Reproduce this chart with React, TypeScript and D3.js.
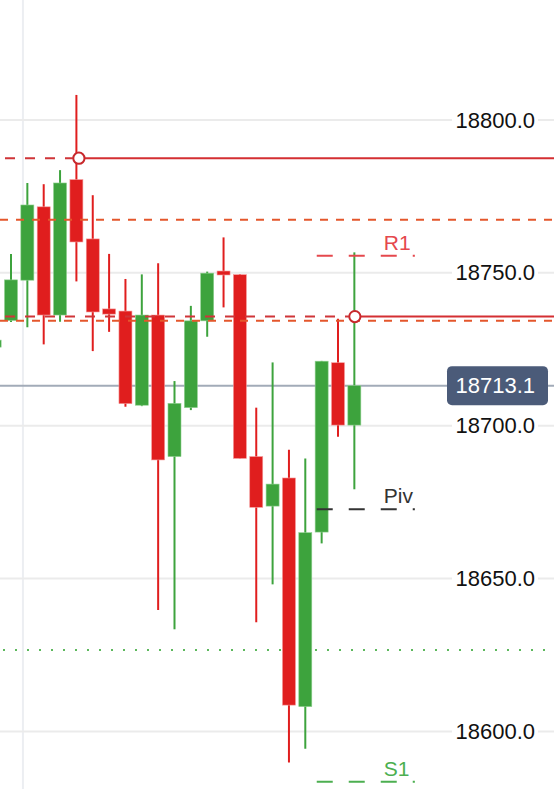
import React from "react";
import * as d3 from "d3";

const W = 554;
const H = 789;

// Candles: [open, high, low, close], index -1 is the partially visible one at the left edge
const candleIndex = [-1, 0, 1, 2, 3, 4, 5, 6, 7, 8, 9, 10, 11, 12, 13, 14, 15, 16, 17, 18, 19, 20, 21];
const opens = [18725.7, 18734.4, 18747.6, 18771.6, 18736.2, 18780.5, 18761.1, 18738.2, 18737.5, 18706.7, 18736.2, 18689.9, 18705.9, 18734.3, 18750.6, 18749.4, 18689.9, 18673.7, 18682.9, 18608.1, 18665.2, 18720.6, 18700.2];
const highs = [18730.0, 18756.2, 18779.4, 18779.0, 18783.6, 18808.2, 18775.4, 18756.2, 18748.0, 18749.5, 18753.1, 18714.6, 18739.2, 18750.4, 18761.6, 18749.6, 18705.9, 18720.7, 18692.1, 18689.3, 18721.2, 18735.0, 18756.7];
const lows = [18724.0, 18733.9, 18732.2, 18726.6, 18734.0, 18747.2, 18724.4, 18730.7, 18706.2, 18706.4, 18639.7, 18633.4, 18705.1, 18729.1, 18738.7, 18689.3, 18635.7, 18648.1, 18589.8, 18594.3, 18661.5, 18696.4, 18679.2];
const closes = [18728.0, 18747.7, 18772.2, 18736.2, 18779.4, 18760.1, 18737.2, 18736.5, 18707.2, 18736.2, 18688.8, 18707.3, 18734.3, 18749.9, 18749.3, 18689.3, 18673.3, 18680.9, 18608.6, 18665.0, 18721.1, 18700.2, 18713.1];

const priceTicks = [18600, 18650, 18700, 18750, 18800];
const lastPrice = 18713.1;

// Red marker lines (dashed left of the marker, solid right of it)
const markerPrices = [18787.5, 18735.7];
const markerCandle = [4, 21];
// Orange dashed lines
const orangePrices = [18767.4, 18734.3];
// Green dotted line
const dottedPrices = [18626.6];
// Pivot levels
const pivotNames = ["R1", "Piv", "S1"];
const pivotPrices = [18755.6, 18672.7, 18583.5];
const pivotColors = ["#e5484d", "#333333", "#4caf50"];
const pivotRange = [18.7, 24.7];
const gridIndex = [0.73];

const UP = "#3da33d";
const DOWN = "#e01e1e";
const FONT = "'Liberation Sans', Arial, Helvetica, sans-serif";

export default function App() {
  const y = d3.scaleLinear().domain([18600, 18800]).range([731.4, 120]);
  const x = d3.scaleLinear().domain([0, 21]).range([11, 354.35]);
  const bodyW = 13;
  const fmt = d3.format(".1f");

  const candles = candleIndex.map((k, i) => ({
    k,
    o: opens[i],
    h: highs[i],
    l: lows[i],
    c: closes[i],
  }));

  return (
    <svg
      width={W}
      height={H}
      style={{ position: "absolute", left: 0, top: 0, background: "#fff" }}
      fontFamily={FONT}
    >
      <rect x={0} y={0} width={W} height={H} fill="#fff" />
      {/* grid */}
      {gridIndex.map((g, i) => (
        <line key={"vg" + i} x1={x(g)} x2={x(g)} y1={0} y2={H} stroke="#eceef2" strokeWidth={2} />
      ))}
      {priceTicks.map((p) => (
        <line key={"hg" + p} x1={0} x2={W} y1={y(p)} y2={y(p)} stroke="#ebebeb" strokeWidth={2} />
      ))}
      {/* last price line */}
      <line x1={0} x2={W} y1={y(lastPrice)} y2={y(lastPrice)} stroke="#a2abb8" strokeWidth={2} />
      {/* dotted green */}
      {dottedPrices.map((p, i) => (
        <line
          key={"dot" + i}
          x1={3}
          x2={W}
          y1={y(p)}
          y2={y(p)}
          stroke="#5cb85c"
          strokeWidth={2}
          strokeDasharray="2 10"
        />
      ))}
      {/* candles */}
      {candles.map((d) => {
        const up = d.c >= d.o;
        const col = up ? UP : DOWN;
        const cx = x(d.k);
        const top = y(Math.max(d.o, d.c));
        const bot = y(Math.min(d.o, d.c));
        return (
          <g key={"c" + d.k}>
            <line x1={cx} x2={cx} y1={y(d.h)} y2={y(d.l)} stroke={col} strokeWidth={2} />
            <rect
              x={cx - bodyW / 2}
              y={top}
              width={bodyW}
              height={Math.max(bot - top, 2)}
              fill={col}
              stroke={up ? "#8fd08f" : "#f59a9a"}
              strokeWidth={0.6}
            />
          </g>
        );
      })}
      {/* orange dashed */}
      {orangePrices.map((p, i) => (
        <line
          key={"or" + i}
          x1={0}
          x2={W}
          y1={y(p)}
          y2={y(p)}
          stroke="#e4572c"
          strokeWidth={2}
          strokeDasharray="8 8"
        />
      ))}
      {/* red marker lines */}
      {markerPrices.map((p, i) => {
        const mx = x(markerCandle[i]) + (i === 0 ? 2.5 : 0.5);
        return (
          <g key={"mk" + i}>
            <line
              x1={5}
              x2={mx - 6}
              y1={y(p)}
              y2={y(p)}
              stroke="#cf3538"
              strokeWidth={2}
              strokeDasharray="10 10"
            />
            <line x1={mx + 6} x2={W} y1={y(p)} y2={y(p)} stroke="#d42f32" strokeWidth={2} />
            <circle cx={mx} cy={y(p)} r={5.6} fill="#fff" stroke="#c8282c" strokeWidth={2} />
          </g>
        );
      })}
      {/* pivot levels */}
      {pivotNames.map((n, i) => (
        <g key={"pv" + n}>
          <line
            x1={x(pivotRange[0])}
            x2={x(pivotRange[1])}
            y1={y(pivotPrices[i])}
            y2={y(pivotPrices[i])}
            stroke={pivotColors[i]}
            strokeWidth={2}
            strokeDasharray="16 16"
          />
          <text
            x={x(pivotRange[0]) + 67}
            y={y(pivotPrices[i]) - 6}
            fontSize={21}
            fill={pivotColors[i]}
          >
            {n}
          </text>
        </g>
      ))}
      {/* axis labels */}
      {priceTicks.map((p) => (
        <g key={"lab" + p}>
          <rect x={452} y={y(p) - 10} width={86} height={20} fill="#fff" />
          <text
            x={535}
            y={y(p)}
            textAnchor="end"
            dominantBaseline="central"
            fontSize={22}
            fill="#111"
          >
            {fmt(p)}
          </text>
        </g>
      ))}
      {/* last price label */}
      <rect x={447} y={y(lastPrice) - 19.5} width={101} height={39} rx={5} fill="#4b5b79" />
      <text
        x={535}
        y={y(lastPrice)}
        textAnchor="end"
        dominantBaseline="central"
        fontSize={22}
        fill="#fff"
      >
        {fmt(lastPrice)}
      </text>
    </svg>
  );
}
